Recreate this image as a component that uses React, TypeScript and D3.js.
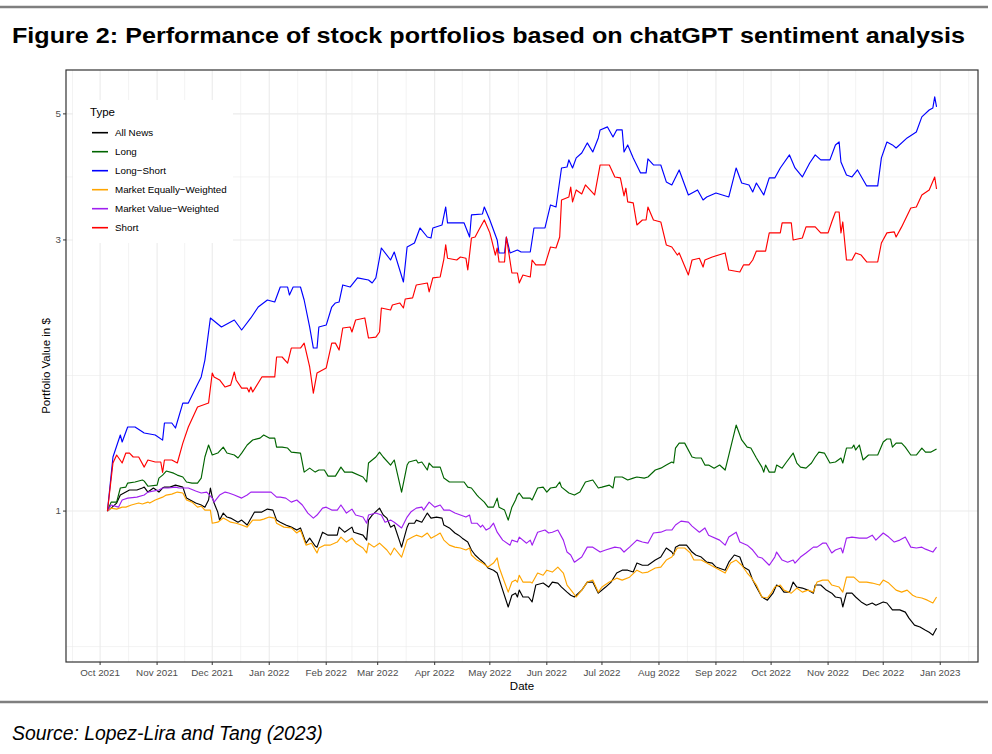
import React from "react";
import * as d3 from "d3";

type Pt = [string, number];

const seriesNames = [
  "All News",
  "Long",
  "Long\u2212Short",
  "Market Equally\u2212Weighted",
  "Market Value\u2212Weighted",
  "Short",
];
const seriesColors = ["#000000", "#006400", "#0000FF", "#FFA500", "#A020F0", "#FF0000"];

const allNews: Pt[] = [
  ["2021-10-05",1.00],["2021-10-07",1.012],["2021-10-10",1.033],["2021-10-12",1.067],["2021-10-15",1.080],["2021-10-17",1.089],["2021-10-21",1.089],["2021-10-24",1.098],["2021-10-25",1.102],["2021-10-27",1.080],["2021-10-30",1.098],["2021-11-02",1.080],["2021-11-04",1.098],["2021-11-05",1.102],["2021-11-08",1.102],["2021-11-11",1.111],["2021-11-15",1.102],["2021-11-17",1.054],["2021-11-19",1.046],["2021-11-22",1.033],["2021-11-25",1.025],["2021-11-27",1.016],["2021-11-29",1.046],["2021-11-30",1.098],["2021-12-01",1.058],["2021-12-02",1.033],["2021-12-04",0.996],["2021-12-05",0.964],["2021-12-07",0.992],["2021-12-09",0.976],["2021-12-11",0.972],["2021-12-15",0.956],["2021-12-17",0.964],["2021-12-20",0.945],["2021-12-24",0.996],["2021-12-28",0.996],["2021-12-31",1.008],
  ["2022-01-03",1.004],["2022-01-05",0.964],["2022-01-07",0.956],["2022-01-10",0.945],["2022-01-13",0.937],["2022-01-16",0.926],["2022-01-18",0.934],["2022-01-21",0.878],["2022-01-23",0.896],["2022-01-26",0.868],["2022-01-27",0.864],["2022-01-30",0.918],["2022-02-02",0.907],["2022-02-07",0.907],["2022-02-08",0.937],["2022-02-11",0.918],["2022-02-15",0.937],["2022-02-16",0.918],["2022-02-21",0.907],["2022-02-23",0.889],["2022-02-24",0.964],["2022-02-26",0.984],["2022-03-02",1.012],["2022-03-04",0.984],["2022-03-06",0.972],["2022-03-08",0.937],["2022-03-10",0.945],["2022-03-14",0.864],["2022-03-17",0.937],["2022-03-18",0.952],["2022-03-21",0.952],["2022-03-22",0.964],["2022-03-25",0.956],["2022-03-28",0.992],["2022-03-30",0.972],
  ["2022-04-02",0.976],["2022-04-05",0.972],["2022-04-06",0.945],["2022-04-09",0.934],["2022-04-12",0.915],["2022-04-14",0.907],["2022-04-16",0.896],["2022-04-19",0.882],["2022-04-21",0.854],["2022-04-23",0.837],["2022-04-26",0.820],["2022-04-28",0.810],["2022-04-30",0.794],["2022-05-03",0.787],["2022-05-05",0.778],["2022-05-08",0.726],["2022-05-11",0.678],["2022-05-13",0.711],["2022-05-15",0.717],["2022-05-16",0.706],["2022-05-17",0.726],["2022-05-19",0.706],["2022-05-22",0.706],["2022-05-24",0.692],["2022-05-26",0.741],["2022-05-30",0.747],["2022-06-02",0.735],["2022-06-04",0.750],["2022-06-07",0.747],["2022-06-09",0.735],["2022-06-12",0.720],["2022-06-14",0.711],["2022-06-16",0.706],["2022-06-20",0.726],["2022-06-23",0.750],["2022-06-26",0.750],["2022-06-29",0.717],
  ["2022-07-03",0.735],["2022-07-06",0.750],["2022-07-09",0.778],["2022-07-12",0.787],["2022-07-15",0.787],["2022-07-18",0.781],["2022-07-20",0.810],["2022-07-23",0.803],["2022-07-26",0.803],["2022-07-30",0.820],["2022-08-02",0.830],["2022-08-05",0.861],["2022-08-08",0.847],["2022-08-09",0.837],["2022-08-10",0.864],["2022-08-12",0.871],["2022-08-16",0.871],["2022-08-19",0.847],["2022-08-21",0.837],["2022-08-24",0.830],["2022-08-27",0.813],["2022-08-30",0.810],["2022-09-01",0.797],["2022-09-06",0.787],["2022-09-08",0.813],["2022-09-11",0.837],["2022-09-14",0.830],["2022-09-16",0.797],["2022-09-19",0.787],["2022-09-21",0.756],["2022-09-23",0.735],["2022-09-26",0.706],["2022-09-29",0.697],
  ["2022-10-02",0.717],["2022-10-04",0.741],["2022-10-06",0.735],["2022-10-08",0.720],["2022-10-11",0.720],["2022-10-13",0.750],["2022-10-15",0.735],["2022-10-18",0.732],["2022-10-21",0.726],["2022-10-24",0.717],["2022-10-25",0.741],["2022-10-28",0.741],["2022-10-31",0.726],["2022-11-03",0.717],["2022-11-05",0.706],["2022-11-08",0.703],["2022-11-09",0.678],["2022-11-11",0.717],["2022-11-14",0.717],["2022-11-16",0.706],["2022-11-19",0.692],["2022-11-22",0.683],["2022-11-25",0.689],["2022-11-27",0.683],["2022-12-01",0.692],["2022-12-03",0.689],["2022-12-06",0.670],["2022-12-10",0.670],["2022-12-13",0.664],["2022-12-15",0.648],["2022-12-18",0.630],["2022-12-21",0.625],["2022-12-24",0.617],["2022-12-26",0.612],["2022-12-28",0.605],["2022-12-30",0.622],
];

const longOnly: Pt[] = [
  ["2021-10-05",1.00],["2021-10-07",1.037],["2021-10-10",1.037],["2021-10-12",1.098],["2021-10-15",1.102],["2021-10-16",1.120],["2021-10-20",1.125],["2021-10-24",1.134],["2021-10-25",1.129],["2021-10-27",1.106],["2021-11-01",1.111],["2021-11-02",1.143],["2021-11-04",1.157],["2021-11-06",1.176],["2021-11-10",1.166],["2021-11-12",1.157],["2021-11-15",1.148],["2021-11-17",1.125],["2021-11-20",1.120],["2021-11-23",1.120],["2021-11-25",1.143],["2021-11-27",1.245],["2021-11-29",1.307],["2021-12-01",1.255],["2021-12-04",1.265],["2021-12-07",1.296],["2021-12-09",1.265],["2021-12-13",1.255],["2021-12-15",1.240],["2021-12-17",1.265],["2021-12-20",1.307],["2021-12-23",1.334],["2021-12-27",1.344],["2021-12-29",1.361],
  ["2022-01-01",1.344],["2022-01-04",1.344],["2022-01-05",1.296],["2022-01-08",1.296],["2022-01-11",1.291],["2022-01-13",1.270],["2022-01-18",1.265],["2022-01-20",1.171],["2022-01-23",1.190],["2022-01-26",1.171],["2022-01-28",1.181],["2022-01-31",1.181],["2022-02-02",1.152],["2022-02-06",1.152],["2022-02-09",1.195],["2022-02-11",1.171],["2022-02-15",1.171],["2022-02-21",1.148],["2022-02-23",1.125],["2022-02-24",1.215],["2022-02-28",1.245],["2022-03-02",1.270],["2022-03-04",1.245],["2022-03-08",1.205],["2022-03-10",1.230],["2022-03-14",1.080],["2022-03-17",1.205],["2022-03-18",1.220],["2022-03-22",1.230],["2022-03-23",1.215],["2022-03-25",1.220],["2022-03-28",1.181],["2022-03-29",1.215],["2022-03-31",1.195],
  ["2022-04-04",1.195],["2022-04-06",1.143],["2022-04-09",1.125],["2022-04-17",1.125],["2022-04-19",1.102],["2022-04-21",1.098],["2022-04-24",1.067],["2022-04-25",1.058],["2022-04-28",1.037],["2022-04-30",1.016],["2022-05-03",1.016],["2022-05-05",1.054],["2022-05-06",1.016],["2022-05-09",1.004],["2022-05-11",0.964],["2022-05-13",1.016],["2022-05-15",1.046],["2022-05-16",1.067],["2022-05-17",1.076],["2022-05-19",1.054],["2022-05-23",1.054],["2022-05-24",1.046],["2022-05-27",1.098],["2022-05-30",1.102],["2022-06-01",1.080],["2022-06-03",1.098],["2022-06-06",1.102],["2022-06-08",1.125],["2022-06-09",1.102],["2022-06-13",1.076],["2022-06-16",1.067],["2022-06-19",1.080],["2022-06-22",1.125],["2022-06-26",1.134],["2022-06-29",1.098],
  ["2022-07-01",1.102],["2022-07-05",1.111],["2022-07-07",1.098],["2022-07-08",1.148],["2022-07-12",1.148],["2022-07-15",1.134],["2022-07-18",1.143],["2022-07-20",1.148],["2022-07-24",1.143],["2022-07-26",1.148],["2022-07-30",1.181],["2022-08-02",1.190],["2022-08-05",1.205],["2022-08-08",1.220],["2022-08-09",1.215],["2022-08-10",1.291],["2022-08-12",1.317],["2022-08-15",1.317],["2022-08-19",1.245],["2022-08-21",1.240],["2022-08-24",1.240],["2022-08-26",1.205],["2022-08-28",1.205],["2022-08-31",1.190],["2022-09-03",1.205],["2022-09-06",1.181],["2022-09-08",1.255],["2022-09-12",1.417],["2022-09-15",1.334],["2022-09-18",1.296],["2022-09-20",1.291],["2022-09-23",1.240],["2022-09-26",1.195],["2022-09-27",1.171],["2022-09-28",1.205],["2022-09-30",1.171],
  ["2022-10-03",1.171],["2022-10-04",1.205],["2022-10-07",1.190],["2022-10-09",1.215],["2022-10-13",1.265],["2022-10-15",1.215],["2022-10-17",1.195],["2022-10-20",1.190],["2022-10-23",1.215],["2022-10-25",1.245],["2022-10-27",1.270],["2022-10-30",1.265],["2022-11-02",1.215],["2022-11-05",1.220],["2022-11-08",1.240],["2022-11-09",1.215],["2022-11-11",1.291],["2022-11-14",1.291],["2022-11-15",1.307],["2022-11-16",1.281],["2022-11-18",1.307],["2022-11-20",1.230],["2022-11-23",1.255],["2022-11-28",1.255],["2022-12-01",1.323],["2022-12-03",1.339],["2022-12-05",1.339],["2022-12-06",1.296],["2022-12-08",1.317],["2022-12-11",1.317],["2022-12-13",1.296],["2022-12-16",1.255],["2022-12-19",1.255],["2022-12-22",1.291],["2022-12-24",1.270],["2022-12-27",1.270],["2022-12-30",1.286],
];

const longShort: Pt[] = [
  ["2021-10-05",1.00],["2021-10-08",1.245],["2021-10-12",1.361],["2021-10-13",1.323],["2021-10-16",1.406],["2021-10-20",1.406],["2021-10-25",1.372],["2021-10-31",1.361],["2021-11-04",1.333],["2021-11-05",1.429],["2021-11-09",1.429],["2021-11-11",1.400],["2021-11-15",1.549],["2021-11-18",1.549],["2021-11-22",1.646],["2021-11-25",1.722],["2021-11-27",1.844],["2021-11-30",2.187],["2021-12-06",2.108],["2021-12-13",2.169],["2021-12-17",2.083],["2021-12-22",2.187],["2021-12-26",2.286],["2021-12-31",2.352],
  ["2022-01-04",2.333],["2022-01-07",2.479],["2022-01-11",2.479],["2022-01-12",2.400],["2022-01-14",2.479],["2022-01-18",2.479],["2022-01-20",2.352],["2022-01-23",2.108],["2022-01-25",1.936],["2022-01-27",1.936],["2022-01-28",2.108],["2022-02-01",2.125],["2022-02-04",2.286],["2022-02-06",2.324],["2022-02-08",2.333],["2022-02-10",2.500],["2022-02-14",2.479],["2022-02-18",2.572],["2022-02-24",2.551],["2022-02-26",2.520],["2022-02-28",2.572],["2022-03-03",2.904],["2022-03-08",2.766],["2022-03-10",2.857],["2022-03-15",2.530],["2022-03-17",2.916],["2022-03-21",2.963],["2022-03-24",3.149],["2022-03-28",3.036],["2022-03-30",3.024],["2022-03-31",3.149],
  ["2022-04-05",3.188],["2022-04-07",3.429],["2022-04-08",3.214],["2022-04-14",3.214],["2022-04-17",3.214],["2022-04-20",3.036],["2022-04-21",3.320],["2022-04-27",3.333],["2022-04-28",3.429],["2022-05-01",3.253],["2022-05-04",3.061],["2022-05-05",3.000],["2022-05-06",2.846],["2022-05-09",2.846],["2022-05-10",3.036],["2022-05-12",2.846],["2022-05-16",2.880],["2022-05-18",2.857],["2022-05-23",2.857],["2022-05-25",3.149],["2022-05-31",3.149],["2022-06-03",3.457],["2022-06-06",3.429],["2022-06-09",4.016],["2022-06-12",4.032],["2022-06-13",4.149],["2022-06-15",4.016],["2022-06-17",4.183],["2022-06-20",4.268],["2022-06-23",4.445],["2022-06-26",4.285],["2022-06-29",4.536],["2022-06-30",4.685],
  ["2022-07-04",4.743],["2022-07-07",4.554],["2022-07-09",4.685],["2022-07-12",4.685],["2022-07-13",4.285],["2022-07-15",4.409],["2022-07-18",4.183],["2022-07-22",3.936],["2022-07-25",3.936],["2022-07-26",4.166],["2022-07-29",4.065],["2022-08-02",4.065],["2022-08-05",3.795],["2022-08-08",3.749],["2022-08-12",3.984],["2022-08-17",3.600],["2022-08-22",3.674],["2022-08-25",3.528],["2022-08-27",3.571],["2022-09-01",3.629],["2022-09-08",3.571],["2022-09-12",4.016],["2022-09-15",3.779],["2022-09-19",3.749],["2022-09-21",3.644],["2022-09-23",3.779],["2022-09-27",3.600],["2022-09-30",3.857],
  ["2022-10-03",3.857],["2022-10-06",4.016],["2022-10-11",4.234],["2022-10-14",4.016],["2022-10-18",3.872],["2022-10-22",4.098],["2022-10-25",4.234],["2022-10-28",4.149],["2022-11-02",4.149],["2022-11-05",4.409],["2022-11-07",4.462],["2022-11-08",4.115],["2022-11-11",3.904],["2022-11-14",3.872],["2022-11-17",3.984],["2022-11-22",3.734],["2022-11-28",3.734],["2022-11-30",4.183],["2022-12-03",4.462],["2022-12-06",4.409],["2022-12-08",4.355],["2022-12-14",4.536],["2022-12-19",4.647],["2022-12-22",4.939],["2022-12-26",5.080],["2022-12-28",5.122],["2022-12-29",5.356],["2022-12-30",5.143],
];

const marketEqual: Pt[] = [
  ["2021-10-05",1.00],["2021-10-07",1.012],["2021-10-10",1.008],["2021-10-13",1.016],["2021-10-15",1.016],["2021-10-18",1.025],["2021-10-22",1.033],["2021-10-24",1.029],["2021-10-27",1.037],["2021-10-28",1.033],["2021-10-31",1.046],["2021-11-04",1.058],["2021-11-06",1.067],["2021-11-09",1.071],["2021-11-12",1.080],["2021-11-15",1.076],["2021-11-17",1.046],["2021-11-20",1.037],["2021-11-23",1.016],["2021-11-25",1.020],["2021-11-27",1.004],["2021-11-30",1.004],["2021-12-01",0.952],["2021-12-04",0.956],["2021-12-07",0.972],["2021-12-09",0.964],["2021-12-11",0.956],["2021-12-14",0.952],["2021-12-17",0.945],["2021-12-20",0.937],["2021-12-23",0.964],["2021-12-27",0.964],["2021-12-29",0.968],
  ["2022-01-01",0.976],["2022-01-04",0.972],["2022-01-05",0.952],["2022-01-09",0.937],["2022-01-13",0.934],["2022-01-16",0.915],["2022-01-18",0.926],["2022-01-21",0.871],["2022-01-24",0.878],["2022-01-27",0.844],["2022-01-28",0.861],["2022-01-31",0.871],["2022-02-03",0.871],["2022-02-07",0.882],["2022-02-09",0.900],["2022-02-12",0.882],["2022-02-15",0.896],["2022-02-17",0.878],["2022-02-21",0.861],["2022-02-23",0.844],["2022-02-24",0.878],["2022-02-27",0.864],["2022-03-02",0.878],["2022-03-06",0.854],["2022-03-08",0.837],["2022-03-10",0.861],["2022-03-14",0.830],["2022-03-17",0.889],["2022-03-20",0.900],["2022-03-22",0.907],["2022-03-25",0.900],["2022-03-28",0.915],["2022-03-30",0.896],
  ["2022-04-02",0.907],["2022-04-04",0.915],["2022-04-06",0.889],["2022-04-09",0.871],["2022-04-12",0.864],["2022-04-15",0.861],["2022-04-18",0.854],["2022-04-20",0.861],["2022-04-21",0.837],["2022-04-24",0.820],["2022-04-27",0.810],["2022-04-30",0.797],["2022-05-03",0.810],["2022-05-05",0.827],["2022-05-06",0.797],["2022-05-08",0.765],["2022-05-11",0.720],["2022-05-13",0.750],["2022-05-15",0.756],["2022-05-16",0.750],["2022-05-17",0.771],["2022-05-19",0.750],["2022-05-23",0.750],["2022-05-24",0.747],["2022-05-27",0.778],["2022-05-30",0.771],["2022-06-01",0.787],["2022-06-04",0.781],["2022-06-07",0.797],["2022-06-10",0.778],["2022-06-12",0.741],["2022-06-15",0.720],["2022-06-17",0.706],["2022-06-20",0.726],["2022-06-23",0.750],["2022-06-26",0.756],["2022-06-29",0.720],
  ["2022-07-01",0.735],["2022-07-05",0.750],["2022-07-09",0.762],["2022-07-12",0.756],["2022-07-16",0.765],["2022-07-20",0.787],["2022-07-23",0.778],["2022-07-26",0.781],["2022-07-30",0.794],["2022-08-02",0.797],["2022-08-05",0.820],["2022-08-08",0.830],["2022-08-11",0.861],["2022-08-15",0.861],["2022-08-18",0.844],["2022-08-20",0.820],["2022-08-24",0.820],["2022-08-27",0.810],["2022-09-01",0.794],["2022-09-06",0.778],["2022-09-09",0.810],["2022-09-12",0.820],["2022-09-15",0.803],["2022-09-18",0.778],["2022-09-20",0.765],["2022-09-23",0.741],["2022-09-26",0.706],["2022-09-29",0.703],
  ["2022-10-01",0.717],["2022-10-03",0.735],["2022-10-06",0.741],["2022-10-08",0.726],["2022-10-12",0.717],["2022-10-15",0.732],["2022-10-18",0.720],["2022-10-21",0.726],["2022-10-24",0.720],["2022-10-26",0.750],["2022-10-29",0.756],["2022-11-01",0.756],["2022-11-03",0.741],["2022-11-07",0.735],["2022-11-09",0.720],["2022-11-11",0.765],["2022-11-15",0.765],["2022-11-18",0.750],["2022-11-22",0.750],["2022-11-25",0.747],["2022-11-29",0.741],["2022-12-01",0.756],["2022-12-04",0.747],["2022-12-08",0.726],["2022-12-11",0.720],["2022-12-14",0.726],["2022-12-17",0.711],["2022-12-19",0.706],["2022-12-22",0.703],["2022-12-25",0.697],["2022-12-28",0.689],["2022-12-30",0.706],
];

const marketValue: Pt[] = [
  ["2021-10-05",1.00],["2021-10-07",1.025],["2021-10-11",1.016],["2021-10-13",1.046],["2021-10-16",1.054],["2021-10-21",1.058],["2021-10-25",1.067],["2021-10-27",1.080],["2021-11-02",1.089],["2021-11-04",1.098],["2021-11-07",1.098],["2021-11-11",1.102],["2021-11-13",1.098],["2021-11-18",1.098],["2021-11-22",1.085],["2021-11-25",1.076],["2021-11-28",1.080],["2021-12-01",1.054],["2021-12-02",1.037],["2021-12-05",1.067],["2021-12-08",1.080],["2021-12-10",1.076],["2021-12-13",1.067],["2021-12-17",1.054],["2021-12-20",1.067],["2021-12-22",1.080],["2021-12-26",1.080],["2021-12-31",1.080],
  ["2022-01-02",1.080],["2022-01-05",1.058],["2022-01-07",1.058],["2022-01-10",1.054],["2022-01-13",1.037],["2022-01-16",1.046],["2022-01-19",1.025],["2022-01-22",0.992],["2022-01-25",0.972],["2022-01-27",0.984],["2022-01-30",1.012],["2022-02-01",1.016],["2022-02-04",1.004],["2022-02-07",1.004],["2022-02-09",1.025],["2022-02-12",0.992],["2022-02-15",1.008],["2022-02-17",0.984],["2022-02-21",0.976],["2022-02-23",0.952],["2022-02-24",0.984],["2022-02-28",0.992],["2022-03-03",0.984],["2022-03-05",0.956],["2022-03-08",0.964],["2022-03-10",0.956],["2022-03-14",0.934],["2022-03-17",0.976],["2022-03-19",0.996],["2022-03-22",1.012],["2022-03-25",1.016],["2022-03-26",1.004],["2022-03-29",1.037],
  ["2022-04-01",1.016],["2022-04-04",1.025],["2022-04-06",1.004],["2022-04-09",1.004],["2022-04-12",0.992],["2022-04-15",0.984],["2022-04-18",0.976],["2022-04-20",0.984],["2022-04-21",0.952],["2022-04-24",0.952],["2022-04-26",0.937],["2022-04-27",0.945],["2022-04-29",0.926],["2022-05-01",0.934],["2022-05-03",0.952],["2022-05-05",0.918],["2022-05-08",0.889],["2022-05-12",0.871],["2022-05-13",0.889],["2022-05-16",0.882],["2022-05-17",0.900],["2022-05-21",0.878],["2022-05-23",0.889],["2022-05-24",0.871],["2022-05-27",0.918],["2022-05-31",0.926],["2022-06-02",0.915],["2022-06-04",0.918],["2022-06-07",0.926],["2022-06-10",0.889],["2022-06-12",0.847],["2022-06-14",0.837],["2022-06-16",0.813],["2022-06-20",0.830],["2022-06-23",0.864],["2022-06-26",0.864],["2022-06-30",0.847],
  ["2022-07-03",0.854],["2022-07-08",0.864],["2022-07-11",0.861],["2022-07-13",0.847],["2022-07-16",0.864],["2022-07-20",0.889],["2022-07-23",0.882],["2022-07-26",0.878],["2022-07-29",0.915],["2022-08-02",0.918],["2022-08-05",0.926],["2022-08-08",0.926],["2022-08-10",0.945],["2022-08-13",0.960],["2022-08-17",0.956],["2022-08-19",0.941],["2022-08-23",0.918],["2022-08-26",0.934],["2022-08-28",0.907],["2022-09-03",0.889],["2022-09-06",0.871],["2022-09-08",0.900],["2022-09-12",0.918],["2022-09-14",0.882],["2022-09-18",0.871],["2022-09-21",0.854],["2022-09-24",0.830],["2022-09-26",0.827],["2022-09-30",0.803],
  ["2022-10-03",0.830],["2022-10-04",0.847],["2022-10-07",0.820],["2022-10-10",0.813],["2022-10-13",0.820],["2022-10-14",0.810],["2022-10-17",0.830],["2022-10-20",0.844],["2022-10-24",0.864],["2022-10-26",0.864],["2022-10-29",0.878],["2022-10-31",0.878],["2022-11-03",0.844],["2022-11-05",0.854],["2022-11-08",0.861],["2022-11-09",0.844],["2022-11-11",0.896],["2022-11-14",0.900],["2022-11-18",0.896],["2022-11-22",0.896],["2022-11-25",0.907],["2022-11-27",0.889],["2022-12-01",0.915],["2022-12-04",0.900],["2022-12-07",0.882],["2022-12-10",0.889],["2022-12-13",0.900],["2022-12-16",0.864],["2022-12-19",0.861],["2022-12-22",0.864],["2022-12-24",0.857],["2022-12-28",0.847],["2022-12-30",0.864],
];

const shortOnly: Pt[] = [
  ["2021-10-05",1.00],["2021-10-08",1.215],["2021-10-10",1.255],["2021-10-13",1.215],["2021-10-15",1.265],["2021-10-17",1.265],["2021-10-19",1.245],["2021-10-22",1.245],["2021-10-25",1.195],["2021-10-27",1.230],["2021-10-31",1.220],["2021-11-03",1.220],["2021-11-04",1.170],["2021-11-05",1.230],["2021-11-09",1.230],["2021-11-12",1.215],["2021-11-15",1.317],["2021-11-18",1.406],["2021-11-23",1.525],["2021-11-29",1.549],["2021-12-01",1.750],["2021-12-02",1.722],["2021-12-05",1.701],["2021-12-08",1.653],["2021-12-11",1.666],["2021-12-13",1.757],["2021-12-14",1.701],["2021-12-17",1.646],["2021-12-20",1.646],["2021-12-21",1.620],["2021-12-22",1.653],["2021-12-23",1.620],["2021-12-28",1.722],
  ["2022-01-04",1.722],["2022-01-05",1.867],["2022-01-08",1.867],["2022-01-11",1.822],["2022-01-13",1.936],["2022-01-18",1.936],["2022-01-20",1.975],["2022-01-23",1.793],["2022-01-25",1.613],["2022-01-27",1.750],["2022-02-01",1.786],["2022-02-04",1.975],["2022-02-06",1.975],["2022-02-08",1.920],["2022-02-10",2.100],["2022-02-14",2.108],["2022-02-15",2.066],["2022-02-17",2.169],["2022-02-22",2.187],["2022-02-24",2.016],["2022-02-28",2.024],["2022-03-02",2.066],["2022-03-03",2.277],["2022-03-08",2.259],["2022-03-09",2.305],["2022-03-13",2.324],["2022-03-15",2.277],["2022-03-16",2.362],["2022-03-20",2.372],["2022-03-22",2.500],["2022-03-28",2.520],["2022-03-29",2.430],["2022-03-31",2.572],
  ["2022-04-04",2.582],["2022-04-06",2.777],["2022-04-07",2.940],["2022-04-08",2.786],["2022-04-13",2.766],["2022-04-15",2.800],["2022-04-18",2.786],["2022-04-19",2.656],["2022-04-21",3.024],["2022-04-23",3.036],["2022-04-25",3.124],["2022-04-28",3.253],["2022-05-01",3.087],["2022-05-02",3.000],["2022-05-04",2.822],["2022-05-05",2.904],["2022-05-06",2.744],["2022-05-09",2.744],["2022-05-10",3.036],["2022-05-13",2.624],["2022-05-16",2.624],["2022-05-17",2.520],["2022-05-19",2.603],["2022-05-23",2.582],["2022-05-24",2.766],["2022-05-26",2.711],["2022-05-31",2.711],["2022-06-03",2.916],["2022-06-06",2.904],["2022-06-08",3.036],["2022-06-09",3.528],["2022-06-13",3.571],["2022-06-14",3.716],["2022-06-15",3.500],["2022-06-17",3.674],["2022-06-20",3.615],["2022-06-22",3.749],["2022-06-27",3.600],["2022-06-30",4.065],
  ["2022-07-05",4.065],["2022-07-08",3.872],["2022-07-11",3.857],["2022-07-13",3.587],["2022-07-14",3.700],["2022-07-15",3.500],["2022-07-18",3.486],["2022-07-20",3.188],["2022-07-23",3.253],["2022-07-25",3.253],["2022-07-26",3.429],["2022-07-29",3.253],["2022-08-02",3.227],["2022-08-05",2.940],["2022-08-08",2.916],["2022-08-11",2.822],["2022-08-12",2.846],["2022-08-17",2.603],["2022-08-19",2.766],["2022-08-23",2.786],["2022-08-25",2.688],["2022-08-26",2.766],["2022-08-30",2.800],["2022-09-06",2.846],["2022-09-08",2.656],["2022-09-14",2.635],["2022-09-16",2.711],["2022-09-19",2.711],["2022-09-21",2.766],["2022-09-23",2.868],["2022-09-28",2.868],["2022-09-30",3.087],
  ["2022-10-06",3.087],["2022-10-07",3.214],["2022-10-12",3.214],["2022-10-13",3.000],["2022-10-18",3.024],["2022-10-20",3.163],["2022-10-25",3.163],["2022-10-28",3.087],["2022-11-01",3.087],["2022-11-03",3.227],["2022-11-05",3.360],["2022-11-07",3.360],["2022-11-08",3.087],["2022-11-09",3.227],["2022-11-11",2.766],["2022-11-14",2.766],["2022-11-16",2.846],["2022-11-19",2.822],["2022-11-22",2.744],["2022-11-28",2.744],["2022-11-30",2.963],["2022-12-03",3.087],["2022-12-07",3.100],["2022-12-08",3.036],["2022-12-11",3.163],["2022-12-16",3.415],["2022-12-19",3.429],["2022-12-22",3.600],["2022-12-26",3.674],["2022-12-29",3.872],["2022-12-30",3.688],
];

const yTickValues = [1, 3, 5];
const xTickDates = [
  "2021-10-01","2021-11-01","2021-12-01","2022-01-01","2022-02-01","2022-03-01","2022-04-01","2022-05-01",
  "2022-06-01","2022-07-01","2022-08-01","2022-09-01","2022-10-01","2022-11-01","2022-12-01","2023-01-01",
];

const titleText = "Figure 2: Performance of stock portfolios based on chatGPT sentiment analysis";
const sourceText = "Source: Lopez-Lira and Tang (2023)";
const legendTitle = "Type";
const xAxisTitle = "Date";
const yAxisTitle = "Portfolio Value in $";

export default function App() {
  const W = 992;
  const H = 754;
  const P = { left: 66, right: 978, top: 70, bottom: 662 };
  const font = "'Liberation Sans', Arial, Helvetica, sans-serif";
  const parse = d3.utcParse("%Y-%m-%d");
  const seriesData = [allNews, longOnly, longShort, marketEqual, marketValue, shortOnly];
  const parsed = seriesData.map((s) => s.map(([d, v]) => ({ date: parse(d) as Date, value: v })));
  const all = parsed.flat();

  const [d0, d1] = d3.extent(all, (p) => p.date) as [Date, Date];
  const span = +d1 - +d0;
  const x = d3
    .scaleUtc()
    .domain([new Date(+d0 - span * 0.05), new Date(+d1 + span * 0.05)])
    .range([P.left, P.right]);

  const [v0, v1] = d3.extent(all, (p) => p.value) as [number, number];
  const l0 = Math.log(v0);
  const l1 = Math.log(v1);
  const ls = l1 - l0;
  const y = d3
    .scaleLog()
    .domain([Math.exp(l0 - 0.05 * ls), Math.exp(l1 + 0.05 * ls)])
    .range([P.bottom, P.top]);

  const xTicks = xTickDates.map((d) => parse(d) as Date);
  const extMajors = [d3.utcMonth.offset(xTicks[0], -1), ...xTicks, d3.utcMonth.offset(xTicks[xTicks.length - 1], 1)];
  const [xd0, xd1] = x.domain();
  const xMinor = d3
    .pairs(extMajors)
    .map(([a, b]) => new Date((+a + +b) / 2))
    .filter((d) => d >= xd0 && d <= xd1);

  const yExt = [
    yTickValues[0] / (yTickValues[1] / yTickValues[0]),
    ...yTickValues,
    yTickValues[yTickValues.length - 1] * (yTickValues[yTickValues.length - 1] / yTickValues[yTickValues.length - 2]),
  ];
  const [yd0, yd1] = y.domain();
  const yMinor = d3
    .pairs(yExt)
    .map(([a, b]) => Math.sqrt(a * b))
    .filter((v) => v >= yd0 && v <= yd1);

  const line = d3
    .line<{ date: Date; value: number }>()
    .x((p) => x(p.date))
    .y((p) => y(p.value));

  const fmt = d3.utcFormat("%b %Y");
  const grid = "#EBEBEB";
  const tickCol = "#333333";
  const labCol = "#4D4D4D";

  const legX = 73;
  const legY = 100;
  const rowY0 = 132.7;
  const rowStep = 19;

  return (
    <svg
      width={W}
      height={H}
      viewBox={`0 0 ${W} ${H}`}
      style={{ position: "absolute", left: 0, top: 0, background: "#fff" }}
      fontFamily={font}
    >
      <rect x={0} y={0} width={W} height={H} fill="#fff" />
      <line x1={0} x2={988} y1={7} y2={7} stroke="#7f7f7f" strokeWidth={2.5} />
      <text x={12} y={42.5} fontSize={22.5} fontWeight="bold" fill="#000" textLength={953} lengthAdjust="spacingAndGlyphs">
        {titleText}
      </text>

      {/* panel grid */}
      <g>
        {yMinor.map((v, i) => (
          <line key={`ym${i}`} x1={P.left} x2={P.right} y1={y(v)} y2={y(v)} stroke={grid} strokeWidth={0.6} />
        ))}
        {xMinor.map((d, i) => (
          <line key={`xm${i}`} x1={x(d)} x2={x(d)} y1={P.top} y2={P.bottom} stroke={grid} strokeWidth={0.6} />
        ))}
        {yTickValues.map((v, i) => (
          <line key={`yM${i}`} x1={P.left} x2={P.right} y1={y(v)} y2={y(v)} stroke={grid} strokeWidth={1.1} />
        ))}
        {xTicks.map((d, i) => (
          <line key={`xM${i}`} x1={x(d)} x2={x(d)} y1={P.top} y2={P.bottom} stroke={grid} strokeWidth={1.1} />
        ))}
      </g>

      {/* series */}
      <g fill="none" strokeLinejoin="round" strokeLinecap="butt">
        {parsed.map((s, i) => (
          <path key={seriesNames[i]} d={line(s) || ""} stroke={seriesColors[i]} strokeWidth={1.15} />
        ))}
      </g>

      {/* panel border */}
      <rect
        x={P.left}
        y={P.top}
        width={P.right - P.left}
        height={P.bottom - P.top}
        fill="none"
        stroke="#333333"
        strokeWidth={1.2}
      />

      {/* legend */}
      <g>
        <rect x={legX} y={legY} width={160} height={143} fill="#fff" />
        <text x={90} y={116} fontSize={11.5} fill="#000">
          {legendTitle}
        </text>
        {seriesNames.map((n, i) => (
          <g key={n}>
            <line
              x1={92}
              x2={108}
              y1={rowY0 + i * rowStep}
              y2={rowY0 + i * rowStep}
              stroke={seriesColors[i]}
              strokeWidth={1.6}
            />
            <text x={115} y={rowY0 + i * rowStep + 3.5} fontSize={9.8} fill="#000">
              {n}
            </text>
          </g>
        ))}
      </g>

      {/* y axis */}
      <g>
        {yTickValues.map((v) => (
          <g key={`yt${v}`}>
            <line x1={P.left - 3} x2={P.left} y1={y(v)} y2={y(v)} stroke={tickCol} strokeWidth={1} />
            <text x={P.left - 5} y={y(v) + 3.4} fontSize={9.8} textAnchor="end" fill={labCol}>
              {v}
            </text>
          </g>
        ))}
        <text
          transform={`translate(49.5, ${(P.top + P.bottom) / 2}) rotate(-90)`}
          fontSize={11.5}
          textAnchor="middle"
          fill="#000"
        >
          {yAxisTitle}
        </text>
      </g>

      {/* x axis */}
      <g>
        {xTicks.map((d, i) => (
          <g key={`xt${i}`}>
            <line x1={x(d)} x2={x(d)} y1={P.bottom} y2={P.bottom + 3} stroke={tickCol} strokeWidth={1} />
            <text x={x(d)} y={P.bottom + 14} fontSize={9.8} textAnchor="middle" fill={labCol}>
              {fmt(d)}
            </text>
          </g>
        ))}
        <text x={(P.left + P.right) / 2} y={P.bottom + 27.5} fontSize={11.5} textAnchor="middle" fill="#000">
          {xAxisTitle}
        </text>
      </g>

      <line x1={0} x2={988} y1={702} y2={702} stroke="#7f7f7f" strokeWidth={2.5} />
      <text x={12} y={740} fontSize={19.4} fontStyle="italic" fill="#000">
        {sourceText}
      </text>
    </svg>
  );
}
